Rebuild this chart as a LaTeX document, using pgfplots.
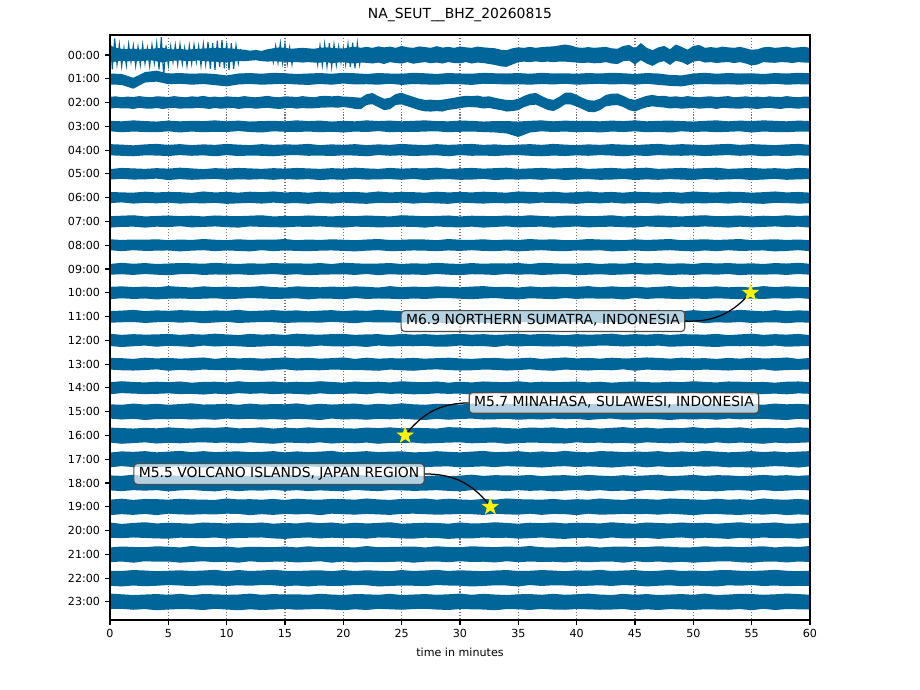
\documentclass[border=0pt]{standalone}
\usepackage{fontspec}
\setmainfont{DejaVu Sans}
\usepackage{pgfplots}
\pgfplotsset{compat=1.18}
\usepackage{pgfplotstable}
\usepgfplotslibrary{fillbetween}
\definecolor{tc}{RGB}{0,102,153}
\pgfdeclareplotmark{fstar}{%
\pgfpathmoveto{\pgfpointpolar{90}{\pgfplotmarksize}}%
\pgfpathlineto{\pgfpointpolar{126}{0.4\pgfplotmarksize}}%
\pgfpathlineto{\pgfpointpolar{162}{\pgfplotmarksize}}%
\pgfpathlineto{\pgfpointpolar{198}{0.4\pgfplotmarksize}}%
\pgfpathlineto{\pgfpointpolar{234}{\pgfplotmarksize}}%
\pgfpathlineto{\pgfpointpolar{270}{0.4\pgfplotmarksize}}%
\pgfpathlineto{\pgfpointpolar{306}{\pgfplotmarksize}}%
\pgfpathlineto{\pgfpointpolar{342}{0.4\pgfplotmarksize}}%
\pgfpathlineto{\pgfpointpolar{18}{\pgfplotmarksize}}%
\pgfpathlineto{\pgfpointpolar{54}{0.4\pgfplotmarksize}}%
\pgfpathclose\pgfusepathqfillstroke}

% traces 00:00 and 02:00, half-widths above (a) and below (b) the trace line, in hundredths of an hour row
\pgfplotstableread{
t a0 b0 a2 b2
0 40 30 24 26
0.5 30 28 26 22
1 26 24 22 25
1.5 24 27 25 24
2 27 25 23 27
2.5 23 26 27 22
3 25 24 24 25
3.5 26 22 22 26
4 28 27 26 23
4.5 30 32 25 27
5 25 26 23 24
5.5 23 24 27 22
6 26 23 24 26
6.5 22 25 22 24
7 24 26 26 25
7.5 25 23 24 22
8 27 25 28 24
8.5 28 27 23 27
9 30 28 25 23
9.5 29 30 22 26
10 28 31 26 24
10.5 27 28 24 22
11 24 25 23 27
11.5 22 26 27 24
12 18 24 24 23
12.5 21 22 22 26
13 17 26 25 24
13.5 24 28 28 22
14 28 26 24 25
14.5 32 28 22 27
15 30 28 26 24
15.5 26 30 25 22
16 28 30 23 26
16.5 30 32 27 23
17 28 30 24 25
17.5 26 32 22 24
18 30 32 27 22
18.5 32 30 28 21
19 30 34 26 20
19.5 28 32 28 22
20 27 30 25 19
20.5 32 34 24 22
21 34 36 22 27
21.5 30 32 20 28
22 34 33 35 10
22.5 30 36 40 7
23 36 32 27 20
23.5 32 38 16 32
24 35 30 20 28
24.5 30 34 36 10
25 38 36 41 8
25.5 32 30 32 16
26 30 37 24 24
26.5 36 33 16 32
27 33 30 11 37
27.5 30 35 12 38
28 37 32 10 36
28.5 31 36 12 38
29 34 30 16 31
29.5 30 34 20 28
30 36 35 25 24
30.5 32 30 28 20
31 30 36 27 19
31.5 35 32 29 21
32 32 34 24 25
32.5 30 38 26 23
33 28 42 20 28
33.5 22 48 15 32
34 20 50 11 38
34.5 28 40 10 36
35 32 30 16 32
35.5 30 28 28 19
36 34 30 37 11
36.5 30 27 40 9
37 33 30 28 20
37.5 35 28 16 31
38 36 30 11 36
38.5 40 28 24 24
39 44 28 41 8
39.5 40 30 42 8
40 32 32 32 17
40.5 30 34 20 28
41 33 32 10 39
41.5 30 35 8 41
42 32 34 16 32
42.5 34 30 32 16
43 28 36 37 12
43.5 26 38 38 11
44 38 26 28 19
44.5 42 24 16 32
45 28 40 11 38
45.5 50 22 20 28
46 30 36 28 20
46.5 20 46 32 16
47 32 32 27 19
47.5 38 26 28 21
48 24 42 24 25
48.5 44 24 26 23
49 34 30 23 26
49.5 22 42 27 24
50 38 28 24 22
50.5 42 24 22 26
51 30 32 25 24
51.5 33 30 26 23
52 30 34 23 27
52.5 35 31 25 22
53 32 30 27 24
53.5 30 34 22 25
54 34 30 24 26
54.5 28 36 26 23
55 22 44 23 25
55.5 24 40 25 27
56 32 30 22 24
56.5 34 32 26 22
57 30 33 24 25
57.5 32 30 23 27
58 35 31 27 23
58.5 30 34 24 24
59 32 30 22 26
59.5 34 32 25 23
60 30 33 24 25
}\fine

% the other traces, one minute apart
\pgfplotstableread{
t a1 b1 a3 b3 a4 b4 a5 b5 a6 b6 a7 b7 a8 b8 a9 b9 a10 b10 a11 b11 a12 b12 a13 b13 a14 b14 a15 b15 a16 b16 a17 b17 a18 b18 a19 b19 a20 b20 a21 b21 a22 b22 a23 b23
0 22 24 23 21 25 22 20 24 24 23 22 26 25 21 21 24 25 27 23 26 28 24 26 23 24 27 31 29 33 30 28 34 32 31 30 35 34 30 29 33 31 32 35 30
1 20 26 21 25 23 24 25 21 22 20 24 23 22 25 26 22 27 23 25 24 23 28 25 26 28 22 29 33 31 35 33 29 30 34 34 31 28 32 33 30 30 35 32 29
2 4 42 25 22 20 26 23 24 21 25 26 22 24 21 22 25 24 26 28 23 26 25 22 27 25 24 34 30 29 32 31 33 35 30 29 34 32 29 31 35 34 31 29 33
3 28 16 22 24 24 22 21 23 25 22 21 26 23 24 25 21 26 24 23 27 24 22 27 25 23 26 30 35 32 29 34 31 29 32 33 30 35 31 30 29 32 34 31 30
4 34 12 20 25 26 23 24 20 22 24 23 22 25 23 21 24 23 28 26 24 25 27 24 22 26 25 33 31 30 34 29 33 31 30 32 35 30 33 34 31 29 32 33 35
5 22 23 24 21 22 25 22 26 24 21 25 24 21 22 23 26 28 25 24 22 27 23 26 28 24 23 29 32 34 31 32 30 33 35 30 29 33 34 32 30 31 29 30 32
6 24 21 21 26 25 21 26 22 23 25 22 20 24 26 25 22 25 24 27 26 23 25 23 24 27 26 32 30 31 33 35 29 30 31 34 32 31 30 29 35 33 31 34 30
7 21 25 23 22 21 24 23 25 20 23 24 25 22 23 24 21 22 26 25 23 26 28 25 27 22 25 35 33 29 30 30 32 34 29 31 33 29 31 35 32 30 34 29 31
8 23 22 22 25 24 22 20 23 26 24 21 23 26 21 22 25 27 25 23 28 24 22 28 23 25 28 30 31 33 29 34 35 29 33 30 31 34 32 31 29 32 30 33 34
9 20 27 25 23 22 26 24 21 22 22 25 21 23 25 26 23 24 23 26 25 28 26 22 25 26 24 31 34 32 31 30 33 31 35 29 32 32 29 30 33 35 31 32 29
10 14 32 21 24 26 21 22 25 24 26 23 24 21 22 23 24 26 27 24 22 25 24 27 26 23 27 33 29 35 30 32 31 33 30 35 29 30 34 33 31 29 33 30 32
11 22 24 24 20 23 25 25 23 21 24 22 26 25 24 21 22 23 25 28 27 22 25 24 23 28 22 29 32 30 33 33 29 32 34 31 30 33 31 28 35 34 30 31 35
12 24 22 20 24 21 23 23 24 25 22 24 21 22 26 24 25 25 22 23 25 27 28 26 25 24 25 34 30 31 29 30 34 29 31 32 35 31 30 32 29 30 32 35 31
13 21 25 22 26 25 24 21 22 23 25 26 23 24 21 22 23 28 24 25 23 24 26 23 28 25 23 30 33 34 32 31 30 35 32 30 31 34 29 31 33 32 29 30 34
14 25 23 23 21 22 26 24 25 26 21 21 24 23 25 25 21 24 26 27 24 26 23 25 24 27 26 32 31 29 35 34 32 30 29 33 34 29 33 30 31 35 30 33 32
15 23 21 21 23 24 22 22 21 22 24 23 25 26 22 23 25 22 25 24 27 23 25 28 22 23 24 31 34 33 30 29 31 34 33 29 30 32 35 33 30 31 34 31 29
16 20 24 25 24 23 21 25 24 24 23 22 22 21 24 24 22 27 23 26 25 28 24 24 27 26 25 35 30 30 31 33 35 31 30 34 32 30 31 29 34 30 31 32 33
17 22 26 22 22 26 24 23 22 21 26 25 23 24 25 22 26 25 28 22 24 25 27 26 25 24 28 29 32 34 33 30 29 33 34 31 30 35 29 34 32 32 35 30 31
18 24 22 24 25 21 23 21 26 25 22 23 21 22 23 25 24 23 24 25 26 24 22 23 26 28 23 33 35 31 29 32 33 29 31 30 35 31 33 30 29 33 31 34 30
19 21 25 20 23 24 25 24 23 22 25 21 24 25 22 21 23 26 25 27 22 26 25 25 23 25 26 30 29 32 34 35 30 32 33 33 29 34 30 32 35 29 33 31 32
20 25 20 23 26 22 22 22 25 23 21 24 26 23 24 26 22 24 27 23 25 27 26 28 24 22 25 32 33 30 31 29 34 30 35 32 31 29 32 31 30 34 32 29 35
21 23 24 21 22 25 23 26 21 24 24 22 22 21 26 24 25 27 22 26 28 23 24 22 25 27 24 34 31 29 33 31 30 35 29 30 33 33 31 29 34 30 29 33 31
22 20 23 25 24 21 26 23 24 21 26 25 23 24 23 22 21 25 26 24 23 25 28 27 26 24 27 29 34 33 30 34 32 31 32 35 30 30 34 35 31 33 30 32 34
23 24 25 22 20 24 21 21 23 26 22 23 25 26 21 23 26 22 24 28 25 26 22 23 28 26 22 33 30 31 35 30 31 29 34 31 32 32 29 30 33 31 35 30 29
24 22 21 24 25 22 24 25 22 22 23 21 24 22 25 25 22 28 25 25 24 22 26 25 23 23 25 30 32 34 31 32 29 33 30 29 34 35 30 31 32 29 33 34 31
25 21 26 21 23 26 22 22 25 24 21 26 22 23 24 21 24 23 27 22 26 27 24 24 26 28 24 35 29 30 32 33 34 30 31 33 30 29 33 32 30 34 31 29 33
26 25 22 23 24 23 25 24 21 23 25 24 23 25 22 24 23 26 24 27 23 24 25 26 28 25 27 31 33 32 30 29 31 34 33 32 29 31 34 33 35 30 32 31 30
27 23 24 25 22 21 23 23 26 21 22 22 26 24 23 22 25 24 26 23 27 26 23 23 24 24 26 29 35 31 34 30 33 29 32 35 31 33 30 29 31 32 34 33 29
28 20 25 22 21 25 22 26 23 25 24 23 21 21 25 26 21 27 23 26 25 23 27 25 22 27 23 33 30 29 32 34 31 32 30 30 33 32 31 34 30 35 29 30 32
29 24 22 21 25 22 26 21 22 22 26 25 24 26 22 23 24 25 22 24 28 25 26 27 25 22 25 32 34 35 30 31 30 29 33 34 32 29 35 31 33 30 31 32 34
30 22 23 24 23 24 21 23 25 24 21 21 25 23 24 21 26 23 25 28 24 27 22 24 27 26 24 30 31 33 29 29 34 31 35 31 30 34 32 30 29 33 32 35 30
31 21 26 23 22 26 24 25 24 22 23 24 22 22 21 25 22 26 27 25 22 24 25 22 26 23 28 34 29 30 33 32 32 35 30 29 31 30 33 34 32 31 35 30 31
32 25 21 20 24 22 23 22 21 25 25 23 26 25 24 22 23 28 24 22 26 26 24 25 23 27 25 31 33 32 31 35 30 30 32 33 34 31 29 32 31 29 33 34 32
33 23 22 22 26 24 25 24 26 23 22 22 23 21 25 24 25 24 22 26 27 23 28 26 24 25 22 29 32 34 30 30 33 33 31 30 29 35 31 30 34 32 30 31 35
34 22 24 22 30 21 22 26 23 21 24 25 21 24 22 23 21 25 26 27 23 25 22 23 27 24 26 33 30 31 35 31 29 32 34 35 32 32 30 33 29 34 31 29 30
35 24 23 20 45 23 21 21 24 26 22 22 25 22 26 25 24 22 28 24 25 28 26 24 25 28 23 30 34 29 32 34 31 31 30 32 33 29 34 31 33 30 35 32 31
36 21 25 23 26 25 24 23 22 24 25 26 23 26 23 21 22 27 23 25 22 24 23 27 22 23 25 35 31 33 30 29 32 34 33 31 29 33 32 35 30 31 29 33 34
37 25 22 25 21 22 26 25 25 22 21 23 22 23 21 26 25 23 25 26 28 27 25 22 26 26 24 30 33 32 31 33 35 29 31 30 34 31 29 30 32 34 33 30 29
38 22 24 21 24 26 23 22 21 25 23 21 26 25 24 24 23 26 27 23 24 25 26 25 28 24 27 32 29 34 33 30 31 32 35 33 30 34 33 29 31 32 30 34 32
39 23 21 24 22 23 25 24 26 21 24 24 24 21 25 22 21 24 22 27 26 22 24 28 23 25 22 29 32 30 34 35 29 33 32 29 31 30 35 32 34 29 31 30 33
40 21 25 22 25 21 22 26 23 23 26 25 21 22 22 23 26 25 26 24 23 26 27 24 25 27 26 34 30 31 29 31 33 30 29 32 35 33 31 31 30 33 34 32 30
41 24 23 23 23 24 24 21 22 26 22 22 25 26 23 25 24 28 23 22 25 24 25 26 27 23 24 31 35 33 32 29 30 34 33 30 29 32 30 34 33 31 32 35 31
42 22 21 21 26 22 21 23 25 22 24 23 23 24 21 21 22 23 25 26 27 25 22 23 24 26 23 33 31 29 30 34 32 31 30 35 33 30 34 29 31 35 30 31 33
43 25 24 24 22 25 23 25 24 24 21 26 22 23 26 24 25 27 24 25 22 28 23 27 26 22 25 30 29 32 33 33 35 29 34 31 32 35 29 32 30 30 33 29 32
44 23 22 22 24 23 26 22 21 21 25 21 24 21 24 22 23 24 28 23 26 23 26 24 22 25 27 32 34 35 31 30 31 33 32 29 30 31 33 33 35 32 29 34 30
45 20 25 25 21 21 22 24 26 25 23 24 26 25 22 26 21 26 22 27 24 26 24 25 28 27 23 29 33 30 34 32 29 30 35 34 31 29 32 30 29 34 31 30 35
46 24 21 21 25 24 25 26 23 23 22 22 21 22 25 23 24 22 26 24 28 24 25 28 23 24 25 35 30 33 29 31 34 32 29 32 30 34 31 31 33 29 35 33 31
47 22 26 23 23 26 21 21 25 22 26 25 23 24 23 25 22 25 23 28 23 27 22 26 25 23 28 31 32 29 31 34 30 35 31 30 33 32 35 34 30 31 32 29 34
48 16 30 24 26 22 23 23 22 24 21 23 25 26 21 22 26 28 25 25 26 23 27 23 27 26 24 30 35 32 33 29 33 29 34 35 29 30 31 32 34 35 30 31 30
49 14 32 22 21 25 24 25 24 21 25 21 22 21 24 24 23 23 27 22 25 26 25 27 24 24 26 34 31 31 30 33 32 31 30 33 32 34 29 29 31 30 34 33 32
50 22 24 20 24 23 22 22 26 26 23 24 24 23 26 21 25 26 24 27 22 25 23 24 26 28 22 29 33 35 32 30 29 34 32 31 35 31 33 30 35 32 31 30 34
51 25 22 23 22 21 25 24 21 23 24 26 21 25 22 26 22 24 26 23 28 24 26 25 23 25 27 32 30 30 34 35 31 30 33 29 31 33 30 34 32 29 33 35 31
52 21 24 25 25 24 23 26 25 22 22 22 23 22 25 23 24 27 23 26 24 27 28 22 25 23 24 31 34 33 29 32 30 33 35 34 30 29 32 31 30 33 35 29 32
53 24 23 21 23 26 21 21 23 25 25 23 26 24 21 25 21 23 25 24 26 22 24 26 27 27 25 35 29 31 33 29 34 32 31 30 33 32 35 33 29 34 30 31 33
54 22 25 24 21 22 24 23 22 24 21 25 22 26 24 22 26 25 27 28 23 25 25 23 24 26 23 30 32 34 30 31 33 29 30 32 34 35 30 30 33 31 32 34 30
55 23 22 22 26 25 22 25 26 21 24 21 25 21 23 24 23 22 24 25 27 28 23 27 26 24 28 33 31 29 32 34 35 31 33 29 31 30 33 32 35 30 29 33 35
56 20 24 25 22 23 26 22 24 23 26 24 23 23 22 21 24 28 26 22 25 23 26 24 22 25 26 29 30 32 35 30 32 34 29 35 33 31 29 34 31 32 33 30 29
57 24 21 23 24 21 23 24 21 26 22 22 21 25 26 25 22 24 23 27 24 26 22 25 28 22 24 34 33 31 30 33 29 31 34 31 30 34 32 29 30 35 31 32 34
58 22 25 21 25 24 25 21 25 22 23 26 24 22 24 23 25 27 25 23 28 24 27 28 25 26 27 31 35 30 33 29 31 33 32 30 35 29 31 33 34 31 34 35 30
59 25 23 24 22 26 22 25 23 24 25 23 22 24 21 26 21 25 22 26 24 27 25 22 24 27 23 33 30 34 31 32 35 30 29 33 32 30 34 31 30 29 32 33 31
60 23 24 22 23 22 24 23 22 21 24 25 26 21 25 22 24 23 26 24 26 22 24 26 23 24 25 30 33 32 29 34 30 33 31 29 34 33 30 35 32 31 33 30 32
}\coarse

\tikzset{anno/.style={draw=black!70, line width=0.8pt, fill=white, fill opacity=0.7, text opacity=1,
  rounded corners=2.5pt, inner xsep=3.6pt, inner ysep=2.9pt, text height=7.3pt, text depth=1.9pt,
  font=\fontsize{10}{12}\selectfont}}
\pgfplotsset{band/.style={fill=tc, draw=none}}

\begin{document}
\begin{tikzpicture}
\begin{axis}[
  at={(79.2pt,50.4pt)}, anchor=south west,
  scale only axis, width=504pt, height=421.2pt,
  xmin=0, xmax=60, ymin=-0.84, ymax=23.76, y dir=reverse,
  xtick={0,5,...,60}, ytick={0,1,...,23},
  yticklabels={00:00,01:00,02:00,03:00,04:00,05:00,06:00,07:00,08:00,09:00,10:00,11:00,12:00,13:00,14:00,15:00,16:00,17:00,18:00,19:00,20:00,21:00,22:00,23:00},
  xmajorgrids,
  major grid style={black!55, line width=0.8pt, dash pattern=on 0.8pt off 1.32pt},
  tick align=outside, tick pos=left,
  major tick length=3.5pt,
  every tick/.style={black, line width=0.8pt},
  axis line style={line width=0.8pt},
  /pgf/number format/assume math mode=true,
  ticklabel style={font=\fontsize{8}{9.6}\selectfont, inner sep=0pt},
  xticklabel style={anchor=north, yshift=-3pt},
  yticklabel style={anchor=east, xshift=-3.5pt},
  title={NA\_SEUT\_\_BHZ\_20260815},
  title style={font=\fontsize{10}{12}\selectfont, at={(0.5,1)}, anchor=base, yshift=6pt, inner sep=0pt},
  xlabel={time in minutes},
  xlabel style={font=\fontsize{8}{9.6}\selectfont, at={(0.5,0)}, anchor=base, yshift=-26pt, inner sep=0pt},
]
\pgfplotsinvokeforeach{0,2}{
  \addplot[draw=none, name path=u#1] table[x=t, y expr={#1-\thisrow{a#1}/100}] {\fine};
  \addplot[draw=none, name path=l#1] table[x=t, y expr={#1+\thisrow{b#1}/100}] {\fine};
  \addplot[band] fill between[of=u#1 and l#1];
}
\pgfplotsinvokeforeach{1,3,4,...,23}{
  \addplot[draw=none, name path=u#1] table[x=t, y expr={#1-\thisrow{a#1}/100}] {\coarse};
  \addplot[draw=none, name path=l#1] table[x=t, y expr={#1+\thisrow{b#1}/100}] {\coarse};
  \addplot[band] fill between[of=u#1 and l#1];
}
% large early swings of the 00:00 trace
\addplot[tc, line width=0.8pt] coordinates {(0,-0.84)(0.2,0.60)(0.4,-0.70)(0.6,0.40)(0.8,-0.45)(1.0,0.48)(1.2,-0.30)(1.4,0.44)(1.6,-0.46)(1.8,0.30)(2.0,-0.40)(2.2,0.46)(2.4,-0.35)(2.6,0.42)(2.8,-0.44)(3.0,0.36)(3.2,-0.30)(3.4,0.48)(3.6,-0.42)(3.8,0.34)(4.0,-0.50)(4.2,0.60)(4.4,-0.75)(4.6,0.86)(4.8,-0.40)(5.0,0.44)(5.2,-0.36)(5.4,0.30)(5.6,-0.42)(5.8,0.40)(6.0,-0.45)(6.2,0.38)(6.4,-0.30)(6.6,0.46)(6.8,-0.40)(7.0,0.36)(7.2,-0.43)(7.4,0.30)(7.6,-0.38)(7.8,0.45)(8.0,-0.47)(8.2,0.40)(8.4,-0.55)(8.6,0.58)(8.8,-0.50)(9.0,0.62)(9.2,-0.60)(9.4,0.50)(9.6,-0.62)(9.8,0.56)(10.0,-0.52)(10.2,0.64)(10.4,-0.50)(10.6,0.58)(10.8,-0.40)(11.0,0.35)(11.2,-0.25)};
\addplot[tc, line width=0.8pt] coordinates {(13.8,-0.20)(14.0,0.30)(14.2,-0.38)(14.4,0.32)(14.6,-0.50)(14.8,0.34)(15.0,-0.46)(15.2,0.36)(15.4,-0.32)(15.6,0.40)(15.8,-0.25)};
\addplot[tc, line width=0.8pt] coordinates {(17.6,-0.25)(17.8,0.40)(18.0,-0.40)(18.2,0.44)(18.4,-0.46)(18.6,0.48)(18.8,-0.50)(19.0,0.50)(19.2,-0.44)(19.4,0.42)(19.6,-0.36)(19.8,0.32)(20.0,-0.30)(20.2,0.40)(20.4,-0.46)(20.6,0.50)(20.8,-0.52)(21.0,0.56)(21.2,-0.50)(21.4,0.40)(21.6,-0.30)};
\node[anno] (n1) at (axis cs:37.11,11.19) {M6.9 NORTHERN SUMATRA, INDONESIA};
\node[anno] (n2) at (axis cs:43.2,14.63) {M5.7 MINAHASA, SULAWESI, INDONESIA};
\node[anno] (n3) at (axis cs:14.49,17.62) {M5.5 VOLCANO ISLANDS, JAPAN REGION};
\draw[line width=0.9pt] (n1.east) to[bend right=25] (axis cs:54.75,10.08);
\draw[line width=0.9pt] (n2.west) to[bend right=25] (axis cs:25.45,15.9);
\draw[line width=0.9pt] (n3.east) to[bend left=25] (axis cs:32.4,18.85);
\addplot[only marks, mark=fstar, mark size=6pt, mark options={fill=yellow, draw=yellow}] coordinates {(54.9,10) (25.3,16) (32.6,19)};
\draw[line width=0.8pt] (rel axis cs:0,0) rectangle (rel axis cs:1,1);
\end{axis}
\pgfresetboundingbox
\path[use as bounding box] (0,0) rectangle (662.4pt,496.8pt);
\end{tikzpicture}
\end{document}
